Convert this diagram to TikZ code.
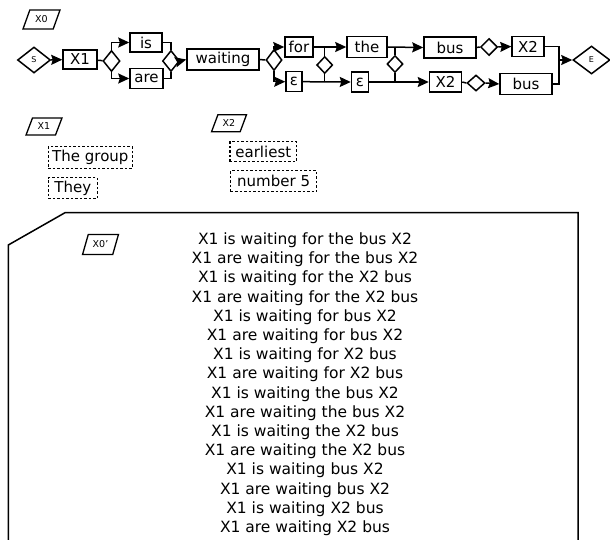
\documentclass[tikz,border=0pt]{standalone}
\usepackage{fontspec}
\setmainfont{DejaVu Sans}
\usetikzlibrary{shapes.geometric,arrows.meta}
\tikzset{
  box/.style={draw, line width=1.5pt, inner sep=0pt, font=\fontsize{15}{18}\selectfont},
  dia/.style={draw, diamond, inner sep=0pt, line width=1.5pt, font=\fontsize{8}{9}\selectfont},
  lab/.style={draw, trapezium, trapezium left angle=63, trapezium right angle=117,
    trapezium stretches=true, line width=1.3pt, inner sep=0pt, font=\fontsize{9.5}{10}\selectfont},
  dbox/.style={draw, dash pattern=on 2.5pt off 2pt, line width=1.3pt, inner sep=0pt,
    font=\fontsize{15}{18}\selectfont},
  arr/.style={-{Stealth[length=11pt,width=10pt,inset=1.5pt]}, line width=1.5pt},
  ln/.style={line width=1.5pt},
}
\begin{document}
\begin{tikzpicture}[x=1pt,y=-1pt]
\useasboundingbox (0,0) rectangle (610,539);
\clip (0,0) rectangle (610,539);
% labels
\node[lab, minimum width=37pt, minimum height=19pt] (l0) at (41.5,19.5) {X0};
\node[lab, minimum width=36pt, minimum height=17pt] (l1) at (44,126.5) {X1};
\node[lab, minimum width=35pt, minimum height=17pt] (l2) at (229,123.3) {X2};
% main graph
\node[dia, minimum width=33pt, minimum height=26pt] (s) at (34,60) {S};
\node[box, minimum width=34pt, minimum height=19pt] (x1) at (80,59.5) {X1};
\node[dia, minimum width=17pt, minimum height=21pt] (d1) at (111.5,61) {};
\node[box, minimum width=32pt, minimum height=19pt] (is) at (146,42.5) {is};
\node[box, minimum width=33pt, minimum height=20pt] (are) at (146.5,78.5) {are};
\node[dia, minimum width=17pt, minimum height=21pt] (d2) at (171,61) {};
\node[box, minimum width=72pt, minimum height=21pt] (wait) at (223,59.5) {waiting};
\node[dia, minimum width=16pt, minimum height=21pt] (d3) at (274,60) {};
\node[box, minimum width=28pt, minimum height=20pt] (for) at (299,47) {for};
\node[box, minimum width=16pt, minimum height=20pt] (e1) at (294,81.7) {ε};
\node[dia, minimum width=16pt, minimum height=17pt] (d4) at (324.7,65) {};
\node[box, minimum width=40pt, minimum height=21pt] (the) at (367,47) {the};
\node[box, minimum width=17pt, minimum height=20pt] (e2) at (360,82) {ε};
\node[dia, minimum width=16pt, minimum height=17pt] (d5) at (395,64) {};
\node[box, minimum width=52pt, minimum height=21pt] (bus1) at (450,47.5) {bus};
\node[box, minimum width=32pt, minimum height=20pt] (x2a) at (445.5,82) {X2};
\node[dia, minimum width=17pt, minimum height=17pt] (d6) at (489,47) {};
\node[box, minimum width=32pt, minimum height=20pt] (x2b) at (528,46.5) {X2};
\node[dia, minimum width=18pt, minimum height=16pt] (d7) at (476,83) {};
\node[box, minimum width=52pt, minimum height=21pt] (bus2) at (526,84) {bus};
\node[dia, minimum width=37pt, minimum height=28pt] (e) at (591.5,60) {E};
\coordinate (j) at (559,60);
% connectors
\draw[arr] (s) -- (x1);
\draw[ln] (x1) -- (d1);
\draw[arr] (d1.north) |- (is.west);
\draw[arr] (d1.south) |- (are.west);
\draw[ln] (is.east) -| (d2.north);
\draw[ln] (are.east) -| (d2.south);
\draw[arr] (d2.east) -- (wait.west);
\draw[ln] (wait.east) -- (d3.west);
\draw[arr] (d3.north) |- (for.west);
\draw[arr] (d3.south) |- (e1.west);
\draw[arr] (for.east) -- (the.west);
\draw[ln] (d4.north) -- (d4.north |- for.east);
\draw[ln] (d4.south) -- (d4.south |- e1.east);
\draw[arr] (e1.east) -- (e2.west);
\draw[arr] (the.east) -- (bus1.west);
\draw[ln] (d5.north) -- (d5.north |- the.east);
\draw[ln] (d5.south) -- (d5.south |- e2.east);
\draw[arr] (e2.east) -- (x2a.west);
\draw[ln] (bus1.east) -- (d6.west);
\draw[arr] (d6.east) -- (x2b.west);
\draw[ln] (x2a.east) -- (d7.west);
\draw[arr] (d7.east) -- (bus2.west);
\draw[ln] (x2b.east) -| (j);
\draw[ln] (bus2.east) -| (j);
\draw[arr] (j) -- (e.west);
% variable lists
\node[dbox, minimum width=84pt, minimum height=21.6pt, anchor=west] (g1) at (47.7,157.5) {The group};
\node[dbox, minimum width=49pt, minimum height=21pt, anchor=west] (g2) at (47.7,188) {They};
\node[dbox, minimum width=66.7pt, minimum height=20pt, anchor=west] (h1) at (229.3,151.7) {earliest};
\node[dbox, minimum width=86pt, minimum height=21pt, anchor=west] (h2) at (230,181) {number 5};
% result frame
\draw[line width=1.5pt] (578,560) -- (578,212.7) -- (65,212.7) -- (8.3,245) -- (8.3,560);
\node[lab, minimum width=36pt, minimum height=20pt] (l0p) at (100.5,244.5) {X0'};
\node[anchor=north, align=center, inner sep=0pt, font=\fontsize{15.5}{19.2}\selectfont] (res) at (305,232.5) {%
X1 is waiting for the bus X2\\
X1 are waiting for the bus X2\\
X1 is waiting for the X2 bus\\
X1 are waiting for the X2 bus\\
X1 is waiting for bus X2\\
X1 are waiting for bus X2\\
X1 is waiting for X2 bus\\
X1 are waiting for X2 bus\\
X1 is waiting the bus X2\\
X1 are waiting the bus X2\\
X1 is waiting the X2 bus\\
X1 are waiting the X2 bus\\
X1 is waiting bus X2\\
X1 are waiting bus X2\\
X1 is waiting X2 bus\\
X1 are waiting X2 bus};
\end{tikzpicture}
\end{document}
